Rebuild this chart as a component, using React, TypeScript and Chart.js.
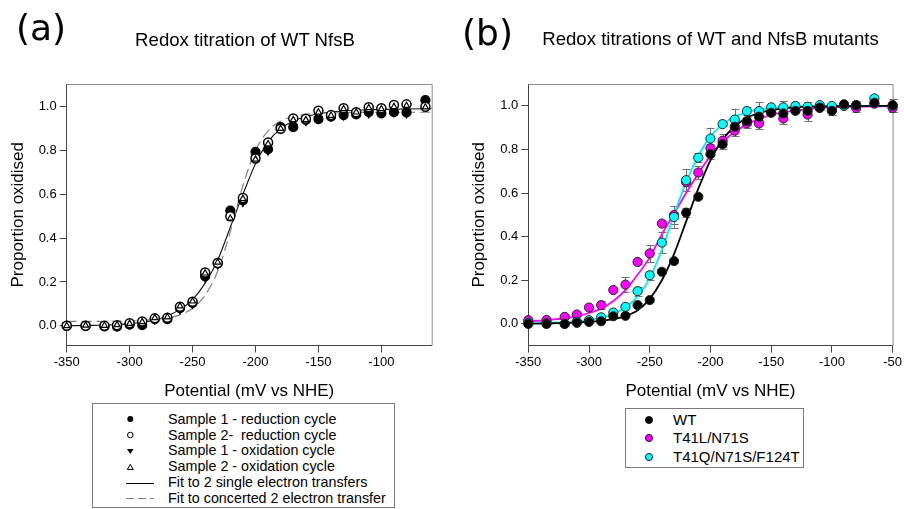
import React, { useEffect, useRef } from "react";
import { Chart, registerables } from "chart.js";

Chart.register(...registerables);

const SANS = "'Liberation Sans', Arial, Helvetica, sans-serif";

// ---------------- Panel (a) ----------------
const titleA = "Redox titration of WT NfsB";
const potentialsA = [-350, -335, -320, -310, -300, -290, -280, -270, -260, -250, -240, -230, -220, -210, -200, -190, -180, -170, -160, -150, -140, -130, -120, -110, -100, -90, -80, -65];
const sample1Reduction = [0.0, 0.0, -0.003, -0.004, 0.005, 0.003, 0.03, 0.03, 0.08, 0.105, 0.225, 0.285, 0.526, 0.572, 0.794, 0.806, 0.907, 0.907, 0.94, 0.944, 0.955, 0.962, 0.965, 0.976, 0.97, 0.975, 0.974, 1.03];
const sample2Reduction = [0.0, 0.0, 0.0, 0.003, 0.012, 0.02, 0.034, 0.037, 0.087, 0.11, 0.243, 0.287, 0.5, 0.584, 0.764, 0.837, 0.9, 0.947, 0.945, 0.982, 0.962, 0.993, 0.975, 0.998, 0.993, 1.008, 1.011, 1.0];
const sample1Oxidation = [0.002, 0.001, 0.0, 0.0, 0.006, 0.008, 0.028, 0.033, 0.075, 0.1, 0.22, 0.28, 0.515, 0.565, 0.785, 0.8, 0.9, 0.91, 0.935, 0.945, 0.955, 0.96, 0.968, 0.97, 0.972, 0.975, 0.97, 1.02];
const sample2Oxidation = [0.0, 0.002, 0.001, 0.004, 0.01, 0.018, 0.036, 0.04, 0.09, 0.112, 0.24, 0.29, 0.49, 0.58, 0.76, 0.83, 0.9, 0.94, 0.94, 0.975, 0.96, 0.99, 0.975, 0.995, 0.99, 1.0, 1.005, 0.998];
const fitPotentialsA = [-350, -330, -310, -300, -290, -280, -270, -260, -250, -240, -230, -220, -210, -200, -190, -180, -170, -160, -150, -140, -130, -120, -100, -80, -60];
const fitSingleElectron = [0.0, 0.002, 0.006, 0.01, 0.016, 0.027, 0.045, 0.075, 0.12, 0.195, 0.3, 0.45, 0.6, 0.74, 0.84, 0.9, 0.935, 0.955, 0.968, 0.976, 0.981, 0.984, 0.988, 0.99, 0.991];
const fitConcerted = [0.02, 0.02, 0.021, 0.022, 0.024, 0.028, 0.035, 0.05, 0.08, 0.14, 0.25, 0.43, 0.64, 0.8, 0.89, 0.935, 0.955, 0.965, 0.97, 0.972, 0.973, 0.974, 0.974, 0.975, 0.975];
const xTicksA = [-350, -300, -250, -200, -150, -100];
const legendA = [
  "Sample 1 - reduction cycle",
  "Sample 2-  reduction cycle",
  "Sample 1 - oxidation cycle",
  "Sample 2 - oxidation cycle",
  "Fit to 2 single electron transfers",
  "Fit to concerted 2 electron transfer",
];

// ---------------- Panel (b) ----------------
const titleB = "Redox titrations of WT and NfsB mutants";
const potentialsB = [-350, -335, -320, -310, -300, -290, -280, -270, -260, -250, -240, -230, -220, -210, -200, -190, -180, -170, -160, -150, -140, -130, -120, -110, -100, -90, -80, -65, -50];
const wtValues = [0.0, 0.0, 0.0, 0.005, 0.009, 0.012, 0.035, 0.037, 0.086, 0.109, 0.239, 0.288, 0.51, 0.583, 0.778, 0.824, 0.904, 0.93, 0.95, 0.968, 0.965, 0.977, 0.977, 0.992, 0.977, 1.007, 1.003, 1.014, 1.003];
const wtErrors = [0, 0, 0, 0.005, 0.005, 0.005, 0.005, 0.005, 0.01, 0.01, 0.01, 0.01, 0.02, 0.01, 0.02, 0.02, 0.01, 0.02, 0.02, 0.01, 0.01, 0.01, 0.02, 0.01, 0.02, 0.01, 0.02, 0.01, 0.03];
const t41lValues = [0.017, 0.018, 0.032, 0.043, 0.075, 0.086, 0.155, 0.18, 0.284, 0.323, 0.46, 0.499, 0.65, 0.694, 0.805, 0.84, 0.886, 0.92, 0.919, 0.97, 0.942, 0.98, 0.96, 0.99, 0.98, 1.0, 0.99, 1.01, 0.99];
const t41lErrors = [0.005, 0.005, 0.005, 0.005, 0.005, 0.02, 0.01, 0.035, 0.01, 0.04, 0.01, 0.04, 0.02, 0.03, 0.02, 0.03, 0.025, 0.02, 0.025, 0.01, 0.025, 0.01, 0.03, 0.01, 0.02, 0.01, 0.02, 0.01, 0.02];
const t41qValues = [0.005, 0.003, 0.0, 0.01, 0.017, 0.03, 0.052, 0.078, 0.15, 0.223, 0.373, 0.49, 0.659, 0.762, 0.85, 0.916, 0.937, 0.976, 0.976, 0.993, 0.993, 0.999, 0.996, 1.003, 0.999, 1.0, 1.003, 1.034, 1.0];
const t41qErrors = [0, 0, 0, 0, 0.005, 0.005, 0.005, 0.01, 0.02, 0.02, 0.05, 0.05, 0.05, 0.02, 0.05, 0.01, 0.05, 0.02, 0.04, 0.01, 0.03, 0.02, 0.02, 0.01, 0.01, 0.01, 0.02, 0.015, 0.03];
const fitPotentialsB = [-350, -330, -310, -300, -290, -280, -270, -260, -250, -240, -230, -220, -210, -200, -190, -180, -170, -160, -150, -140, -130, -120, -100, -80, -50];
const wtFit = [0.001, 0.003, 0.006, 0.009, 0.014, 0.022, 0.036, 0.062, 0.115, 0.2, 0.32, 0.47, 0.62, 0.75, 0.845, 0.905, 0.945, 0.967, 0.98, 0.988, 0.993, 0.996, 0.998, 0.999, 1.0];
const t41lFit = [0.012, 0.02, 0.035, 0.05, 0.07, 0.105, 0.155, 0.225, 0.305, 0.41, 0.505, 0.6, 0.69, 0.77, 0.835, 0.88, 0.915, 0.94, 0.958, 0.97, 0.978, 0.985, 0.992, 0.996, 0.998];
const t41qFit = [0.003, 0.006, 0.012, 0.018, 0.028, 0.045, 0.075, 0.125, 0.21, 0.34, 0.5, 0.65, 0.77, 0.86, 0.915, 0.95, 0.97, 0.982, 0.99, 0.994, 0.996, 0.998, 0.999, 1.0, 1.0];
const xTicksB = [-350, -300, -250, -200, -150, -100, -50];
const seriesNamesB = ["WT", "T41L/N71S", "T41Q/N71S/F124T"];
const seriesColorsB = ["#000000", "#ff00ff", "#00ffff"];

const yTicks = [0, 0.2, 0.4, 0.6, 0.8, 1.0];
const xAxisTitle = "Potential (mV vs NHE)";
const yAxisTitle = "Proportion oxidised";

const pts = (xs: number[], ys: number[]) => xs.map((x, i) => ({ x, y: ys[i] }));

const framePlugin = {
  id: "frame",
  beforeDatasetsDraw(chart: any) {
    const { ctx, chartArea } = chart;
    const { left, right, top, bottom } = chartArea;
    ctx.save();
    ctx.strokeStyle = "#8a8a8a";
    ctx.lineWidth = 1;
    ctx.beginPath();
    ctx.moveTo(left, top + 0.5);
    ctx.lineTo(right + 0.5, top + 0.5);
    ctx.lineTo(right + 0.5, bottom);
    ctx.stroke();
    ctx.restore();
  },
};

const errorBarPlugin = {
  id: "errorBars",
  beforeDatasetsDraw(chart: any) {
    const { ctx } = chart;
    const yScale = chart.scales.y;
    ctx.save();
    ctx.strokeStyle = "#707070";
    ctx.lineWidth = 1;
    chart.data.datasets.forEach((ds: any, i: number) => {
      if (!ds.errorBars) return;
      const meta = chart.getDatasetMeta(i);
      meta.data.forEach((el: any, j: number) => {
        const e = ds.errorBars[j];
        if (!e) return;
        const v = ds.data[j].y;
        const x = Math.round(el.x) + 0.5;
        const y1 = yScale.getPixelForValue(v + e);
        const y2 = yScale.getPixelForValue(v - e);
        ctx.beginPath();
        ctx.moveTo(x, y1);
        ctx.lineTo(x, y2);
        ctx.moveTo(x - 4, Math.round(y1) + 0.5);
        ctx.lineTo(x + 4, Math.round(y1) + 0.5);
        ctx.moveTo(x - 4, Math.round(y2) + 0.5);
        ctx.lineTo(x + 4, Math.round(y2) + 0.5);
        ctx.stroke();
      });
    });
    ctx.restore();
  },
};

function makeOptions(p: {
  xMin: number; xMax: number; yMin: number; yMax: number; xTicks: number[];
  yWidth: number; xHeight: number; padTop: number; padRight: number; yTitlePad: number;
}) {
  return {
    responsive: false,
    animation: false,
    events: [],
    layout: { padding: { top: p.padTop, right: p.padRight, left: 0, bottom: 0 } },
    plugins: { legend: { display: false }, title: { display: false }, tooltip: { enabled: false } },
    scales: {
      x: {
        type: "linear",
        min: p.xMin,
        max: p.xMax,
        afterBuildTicks: (s: any) => { s.ticks = p.xTicks.map((v) => ({ value: v })); },
        afterFit: (s: any) => { s.height = p.xHeight; },
        ticks: {
          font: { family: SANS, size: 13 }, color: "#000", padding: 2, maxRotation: 0, autoSkip: false,
          callback: (v: any) => String(v),
        },
        grid: { drawOnChartArea: false, drawTicks: true, tickLength: 7, color: "#444", lineWidth: 1 },
        border: { display: true, color: "#444", width: 1 },
        title: { display: true, text: xAxisTitle, color: "#000", font: { family: SANS, size: 17 }, padding: { top: 0, bottom: 0 } },
      },
      y: {
        type: "linear",
        min: p.yMin,
        max: p.yMax,
        afterBuildTicks: (s: any) => { s.ticks = yTicks.map((v) => ({ value: v })); },
        afterFit: (s: any) => { s.width = p.yWidth; },
        ticks: {
          font: { family: SANS, size: 13 }, color: "#000", padding: 3,
          callback: (v: any) => Number(v).toFixed(1),
        },
        grid: { drawOnChartArea: false, drawTicks: true, tickLength: 7, color: "#444", lineWidth: 1 },
        border: { display: true, color: "#444", width: 1 },
        title: { display: true, text: yAxisTitle, color: "#000", font: { family: SANS, size: 17 }, padding: { top: p.yTitlePad, bottom: 0 } },
      },
    },
  } as any;
}

function PanelA() {
  const ref = useRef<HTMLCanvasElement>(null);
  useEffect(() => {
    if (!ref.current) return;
    const pointBase = { type: "line", showLine: false, pointRadius: 4.5, pointBorderWidth: 1.2, clip: false };
    const chart = new Chart(ref.current, {
      type: "line",
      data: {
        datasets: [
          { ...pointBase, label: legendA[0], data: pts(potentialsA, sample1Reduction), pointStyle: "circle", pointBackgroundColor: "#000", pointBorderColor: "#000", order: 2 },
          { ...pointBase, label: legendA[1], data: pts(potentialsA, sample2Reduction), pointStyle: "circle", pointBackgroundColor: "#fff", pointBorderColor: "#000", pointBorderWidth: 1.5, order: 1 },
          { ...pointBase, label: legendA[2], data: pts(potentialsA, sample1Oxidation), pointStyle: "triangle", rotation: 180, pointRotation: 180, pointBackgroundColor: "#000", pointBorderColor: "#000", order: 3 },
          { ...pointBase, label: legendA[3], data: pts(potentialsA, sample2Oxidation), pointStyle: "triangle", pointRadius: 3.5, pointBackgroundColor: "#fff", pointBorderColor: "#000", order: 0 },
          { type: "line", label: legendA[4], data: pts(fitPotentialsA, fitSingleElectron), borderColor: "#111", borderWidth: 1.1, pointRadius: 0, cubicInterpolationMode: "monotone", order: 5 },
          { type: "line", label: legendA[5], data: pts(fitPotentialsA, fitConcerted), borderColor: "#808080", borderWidth: 1.2, borderDash: [10, 5], pointRadius: 0, cubicInterpolationMode: "monotone", order: 4 },
        ] as any,
      },
      options: makeOptions({ xMin: -350, xMax: -60, yMin: -0.09, yMax: 1.104, xTicks: xTicksA, yWidth: 66.7, xHeight: 402 - 345.5, padTop: 84, padRight: 452 - 431.7, yTitlePad: 7.8 }),
      plugins: [framePlugin],
    } as any);
    return () => chart.destroy();
  }, []);
  return <canvas ref={ref} width={452} height={402} style={{ position: "absolute", left: 0, top: 0, width: 452, height: 402 }} />;
}

function PanelB() {
  const ref = useRef<HTMLCanvasElement>(null);
  useEffect(() => {
    if (!ref.current) return;
    const valuesList = [wtValues, t41lValues, t41qValues];
    const errList = [wtErrors, t41lErrors, t41qErrors];
    const fitList = [wtFit, t41lFit, t41qFit];
    const lineColors = ["#000000", "#ff00ff", "#00f0f0"];
    const pointSets = seriesNamesB.map((name, i) => ({
      type: "line",
      label: name,
      data: pts(potentialsB, valuesList[i]),
      errorBars: errList[i],
      showLine: false,
      pointRadius: 4.6,
      pointBorderWidth: 1,
      pointBackgroundColor: seriesColorsB[i],
      pointBorderColor: "#222",
      clip: false,
      order: [0, 2, 1][i],
    }));
    const fitSets = seriesNamesB.map((name, i) => ({
      type: "line",
      label: name + " fit",
      data: pts(fitPotentialsB, fitList[i]),
      borderColor: lineColors[i],
      borderWidth: 1.8,
      pointRadius: 0,
      cubicInterpolationMode: "monotone",
      order: [3, 5, 4][i],
    }));
    const chart = new Chart(ref.current, {
      type: "line",
      data: { datasets: [...pointSets, ...fitSets] as any },
      options: makeOptions({ xMin: -350, xMax: -50, yMin: -0.1, yMax: 1.1, xTicks: xTicksB, yWidth: 76.3, xHeight: 402 - 345.7, padTop: 84, padRight: 452 - 441.3, yTitlePad: 16.8 }),
      plugins: [framePlugin, errorBarPlugin],
    } as any);
    return () => chart.destroy();
  }, []);
  return <canvas ref={ref} width={452} height={402} style={{ position: "absolute", left: 452, top: 0, width: 452, height: 402 }} />;
}

function LegendMarkerA({ i }: { i: number }) {
  return (
    <svg width={40} height={14} style={{ position: "absolute", left: 120 - 92, top: -7 }}>
      {i === 0 && <circle cx={9.3} cy={7} r={3} fill="#000" />}
      {i === 1 && <circle cx={9.3} cy={7} r={2.8} fill="#fff" stroke="#000" strokeWidth={1} />}
      {i === 2 && <polygon points="6,5 12.6,5 9.3,10" fill="#000" />}
      {i === 3 && <polygon points="6.3,9.5 12.3,9.5 9.3,4.3" fill="#fff" stroke="#000" strokeWidth={1} />}
      {i === 4 && <line x1={5} y1={7.5} x2={33} y2={7.5} stroke="#000" strokeWidth={1} />}
      {i === 5 && <line x1={5} y1={7.5} x2={33} y2={7.5} stroke="#808080" strokeWidth={1.2} strokeDasharray="8,4" />}
    </svg>
  );
}

export default function App() {
  const text = (s: React.CSSProperties): React.CSSProperties => ({ position: "absolute", whiteSpace: "pre", color: "#000", lineHeight: 1, ...s });
  return (
    <div style={{ position: "fixed", left: 0, top: 0, width: 904, height: 509, background: "#fff", overflow: "hidden" }}>
      <PanelA />
      <PanelB />
      <div style={text({ left: 16, top: 10, fontFamily: "'DejaVu Sans', sans-serif", fontSize: 36 })}>(a)</div>
      <div style={text({ left: 462, top: 15, fontFamily: "'DejaVu Sans', sans-serif", fontSize: 36 })}>(b)</div>
      <div style={text({ left: 245, top: 30.5, transform: "translateX(-50%)", fontFamily: SANS, fontSize: 18.6 })}>{titleA}</div>
      <div style={text({ left: 710.5, top: 29.5, transform: "translateX(-50%)", fontFamily: SANS, fontSize: 18.6 })}>{titleB}</div>

      <div style={{ position: "absolute", left: 92, top: 403, width: 301, height: 103, border: "1px solid #7a7a7a", boxSizing: "content-box" }}>
        {legendA.map((label, i) => (
          <div key={label} style={{ position: "absolute", left: 0, top: 15.3 + i * 15.8, width: 300 }}>
            <LegendMarkerA i={i} />
            <div style={text({ left: 168 - 93, top: -7.5, fontFamily: SANS, fontSize: 14.3 })}>{label}</div>
          </div>
        ))}
      </div>

      <div style={{ position: "absolute", left: 625, top: 408, width: 177, height: 58, border: "1px solid #7a7a7a" }}>
        {seriesNamesB.map((label, i) => (
          <div key={label} style={{ position: "absolute", left: 0, top: 11 + i * 18.4, width: 176 }}>
            <svg width={14} height={14} style={{ position: "absolute", left: 649 - 626 - 7, top: -7 }}>
              <circle cx={7} cy={7} r={3.6} fill={seriesColorsB[i]} stroke="#222" strokeWidth={1} />
            </svg>
            <div style={text({ left: 673 - 626, top: -8, fontFamily: SANS, fontSize: 15 })}>{label}</div>
          </div>
        ))}
      </div>
    </div>
  );
}
